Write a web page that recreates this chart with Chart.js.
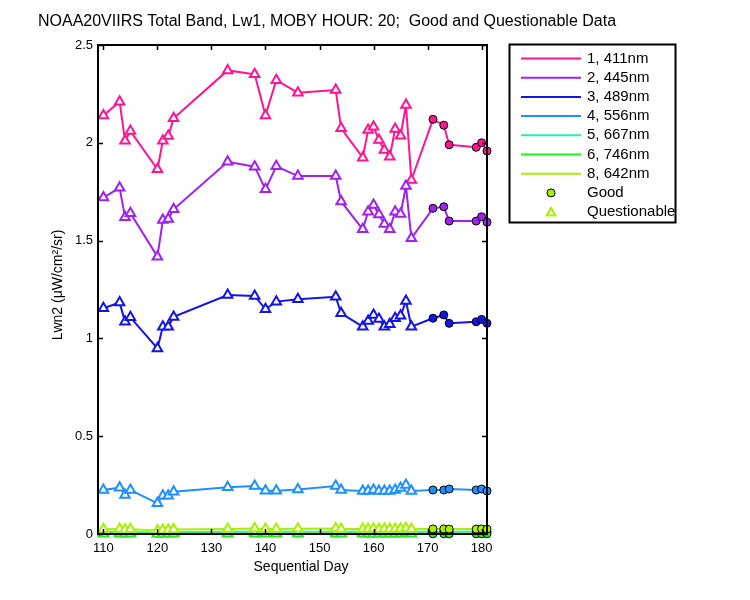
<!DOCTYPE html>
<html>
<head>
<meta charset="utf-8">
<title>NOAA20VIIRS Total Band, Lw1</title>
<script src="https://cdn.jsdelivr.net/npm/chart.js@4.4.0/dist/chart.umd.min.js"></script>
<style>
  body { margin: 0; background: #fff; }
  canvas { display: block; }
</style>
</head>
<body>
<canvas id="lwnChart" width="750" height="600"></canvas>
<script>
// days flagged questionable, then good
var questDays = [110, 113, 114, 115, 120, 121, 122, 123, 133, 138, 140, 142, 146, 153, 154,
                 158, 159, 160, 161, 162, 163, 164, 165, 166, 167];
var goodDays = [171, 173, 174, 179, 180, 181];

var bandNames = ['1, 411nm', '2, 445nm', '3, 489nm', '4, 556nm', '5, 667nm', '6, 746nm', '8, 642nm'];
var bandColors = ['#ff1493', '#a020f0', '#1414e6', '#1e90ff', '#20f0b0', '#20f020', '#a8f000'];

// Lwn values, same order as questDays then goodDays
var lwn411 = [2.14, 2.21, 2.01, 2.06, 1.865, 2.01, 2.035, 2.125, 2.37, 2.35, 2.14, 2.32, 2.256, 2.27, 2.074,
              1.924, 2.065, 2.082, 2.014, 1.963, 1.929, 2.07, 2.036, 2.193, 1.81,
              2.12, 2.09, 1.99, 1.977, 2.0, 1.958];
var lwn445 = [1.72, 1.77, 1.62, 1.64, 1.418, 1.605, 1.61, 1.66, 1.903, 1.878, 1.762, 1.88, 1.83, 1.83, 1.70,
              1.558, 1.648, 1.682, 1.634, 1.585, 1.558, 1.648, 1.636, 1.779, 1.512,
              1.665, 1.673, 1.60, 1.60, 1.622, 1.594];
var lwn489 = [1.154, 1.183, 1.085, 1.108, 0.949, 1.06, 1.06, 1.11, 1.222, 1.217, 1.149, 1.188, 1.20, 1.213, 1.128,
              1.06, 1.089, 1.12, 1.099, 1.06, 1.072, 1.103, 1.116, 1.191, 1.06,
              1.103, 1.12, 1.077, 1.085, 1.097, 1.077];
var lwn556 = [0.225, 0.237, 0.2, 0.225, 0.157, 0.196, 0.196, 0.216, 0.239, 0.245, 0.221, 0.221, 0.228, 0.245, 0.225,
              0.22, 0.22, 0.225, 0.22, 0.22, 0.22, 0.225, 0.235, 0.25, 0.22,
              0.225, 0.225, 0.23, 0.225, 0.23, 0.22];
var lwn667 = [0.01, 0.011, 0.009, 0.01, 0.007, 0.008, 0.008, 0.009, 0.011, 0.012, 0.011, 0.011, 0.012, 0.012, 0.011,
              0.011, 0.011, 0.012, 0.011, 0.011, 0.011, 0.011, 0.012, 0.013, 0.011,
              0.011, 0.011, 0.011, 0.011, 0.011, 0.011];
var lwn746 = [0.001, 0.001, 0.001, 0.001, 0.0, 0.001, 0.001, 0.001, 0.001, 0.001, 0.001, 0.001, 0.001, 0.001, 0.001,
              0.001, 0.001, 0.001, 0.001, 0.001, 0.001, 0.001, 0.001, 0.002, 0.001,
              0.001, 0.001, 0.001, 0.001, 0.001, 0.001];
var lwn642 = [0.024, 0.026, 0.022, 0.024, 0.018, 0.021, 0.021, 0.023, 0.026, 0.028, 0.025, 0.025, 0.027, 0.028, 0.026,
              0.025, 0.026, 0.027, 0.026, 0.025, 0.025, 0.026, 0.027, 0.029, 0.025,
              0.026, 0.026, 0.025, 0.025, 0.026, 0.025];

var xTicks = [110, 120, 130, 140, 150, 160, 170, 180];
var yTicks = [0, 0.5, 1, 1.5, 2, 2.5];

var allDays = questDays.concat(goodDays);
var bands = [lwn411, lwn445, lwn489, lwn556, lwn667, lwn746, lwn642];
var datasets = [];

bands.forEach(function (vals, b) {
  var pts = allDays.map(function (d, i) { return { x: d, y: vals[i] }; });
  var col = bandColors[b];
  datasets.push({
    label: bandNames[b],
    data: pts,
    showLine: true,
    borderColor: col,
    backgroundColor: col,
    borderWidth: 2,
    pointRadius: 0,
    order: 100 - b * 3
  });
  datasets.push({
    label: 'Questionable',
    data: pts.slice(0, questDays.length),
    pointStyle: 'triangle',
    pointRadius: 5.5,
    borderColor: col,
    backgroundColor: '#ffffff',
    borderWidth: 2,
    clip: false,
    order: 99 - b * 3
  });
  datasets.push({
    label: 'Good',
    data: pts.slice(questDays.length),
    pointStyle: 'circle',
    pointRadius: 4,
    borderColor: '#000000',
    backgroundColor: col,
    borderWidth: 1,
    clip: false,
    order: 98 - b * 3
  });
});

// box, inward ticks, titles and legend like the matlab figure
var matlabLook = {
  id: 'matlabLook',
  afterDatasetsDraw: function (chart) {
    var ctx = chart.ctx;
    var a = chart.chartArea;
    var xs = chart.scales.x, ys = chart.scales.y;
    ctx.save();
    ctx.strokeStyle = '#000';
    ctx.lineWidth = 2;
    ctx.strokeRect(a.left, a.top, a.right - a.left, a.bottom - a.top);
    ctx.lineWidth = 1.5;
    ctx.beginPath();
    xTicks.forEach(function (t) {
      var px = Math.round(xs.getPixelForValue(t)) + 0.5;
      ctx.moveTo(px, a.bottom); ctx.lineTo(px, a.bottom - 5);
      ctx.moveTo(px, a.top); ctx.lineTo(px, a.top + 5);
    });
    yTicks.forEach(function (t) {
      var py = Math.round(ys.getPixelForValue(t)) + 0.5;
      ctx.moveTo(a.left, py); ctx.lineTo(a.left + 5, py);
      ctx.moveTo(a.right, py); ctx.lineTo(a.right - 5, py);
    });
    ctx.stroke();
    ctx.restore();
  },
  afterDraw: function (chart) {
    var ctx = chart.ctx;
    ctx.save();
    ctx.fillStyle = '#000';
    ctx.textBaseline = 'middle';
    ctx.textAlign = 'center';
    ctx.font = '16px Arial';
    ctx.fillText('NOAA20VIIRS Total Band, Lw1, MOBY HOUR: 20;  Good and Questionable Data', 327, 22);
    ctx.font = '14px Arial';
    ctx.fillText('Sequential Day', 301, 567);
    ctx.save();
    ctx.translate(58, 285);
    ctx.rotate(-Math.PI / 2);
    ctx.fillText('Lwn2 (\u03bcW/cm\u00b2/sr)', 0, 0);
    ctx.restore();

    // legend box
    var lx = 509.5, ly = 44.5, lw = 166, lh = 178;
    ctx.fillStyle = '#fff';
    ctx.fillRect(lx, ly, lw, lh);
    ctx.strokeStyle = '#000';
    ctx.lineWidth = 2;
    ctx.strokeRect(lx, ly, lw, lh);
    ctx.font = '15px Arial';
    ctx.textAlign = 'left';
    var rowY = function (i) { return 58.5 + i * 19.2; };
    bandNames.forEach(function (name, i) {
      ctx.strokeStyle = bandColors[i];
      ctx.lineWidth = 2;
      ctx.beginPath();
      ctx.moveTo(521, rowY(i)); ctx.lineTo(581, rowY(i));
      ctx.stroke();
      ctx.fillStyle = '#000';
      ctx.fillText(name, 587, rowY(i));
    });
    var last = bandColors[bandColors.length - 1];
    ctx.fillStyle = last; ctx.strokeStyle = '#000'; ctx.lineWidth = 1;
    ctx.beginPath(); ctx.arc(551, rowY(7), 4, 0, Math.PI * 2); ctx.fill(); ctx.stroke();
    ctx.fillStyle = '#fff'; ctx.strokeStyle = last; ctx.lineWidth = 2;
    Chart.helpers.drawPoint(ctx, { pointStyle: 'triangle', radius: 5, borderWidth: 2 }, 551, rowY(8) + 1);
    ctx.fillStyle = '#000';
    ctx.fillText('Good', 587, rowY(7));
    ctx.fillText('Questionable', 587, rowY(8));
    ctx.restore();
  }
};

new Chart(document.getElementById('lwnChart').getContext('2d'), {
  type: 'scatter',
  data: { datasets: datasets },
  options: {
    responsive: false,
    animation: false,
    layout: { padding: { top: 45, right: 263, left: 0, bottom: 0 } },
    plugins: { legend: { display: false }, title: { display: false }, tooltip: { enabled: false } },
    scales: {
      x: {
        type: 'linear',
        min: 109,
        max: 181,
        grid: { display: false, drawTicks: false },
        border: { display: false },
        afterBuildTicks: function (scale) { scale.ticks = xTicks.map(function (v) { return { value: v }; }); },
        afterFit: function (scale) { scale.height = 66; },
        ticks: { color: '#000', font: { family: 'Arial', size: 13 }, padding: 7, maxRotation: 0 }
      },
      y: {
        type: 'linear',
        min: 0,
        max: 2.5,
        grid: { display: false, drawTicks: false },
        border: { display: false },
        afterBuildTicks: function (scale) { scale.ticks = yTicks.map(function (v) { return { value: v }; }); },
        afterFit: function (scale) { scale.width = 98; },
        ticks: {
          color: '#000', font: { family: 'Arial', size: 13 }, padding: 5,
          callback: function (v) { return String(v); }
        }
      }
    }
  },
  plugins: [matlabLook]
});
</script>
</body>
</html>
